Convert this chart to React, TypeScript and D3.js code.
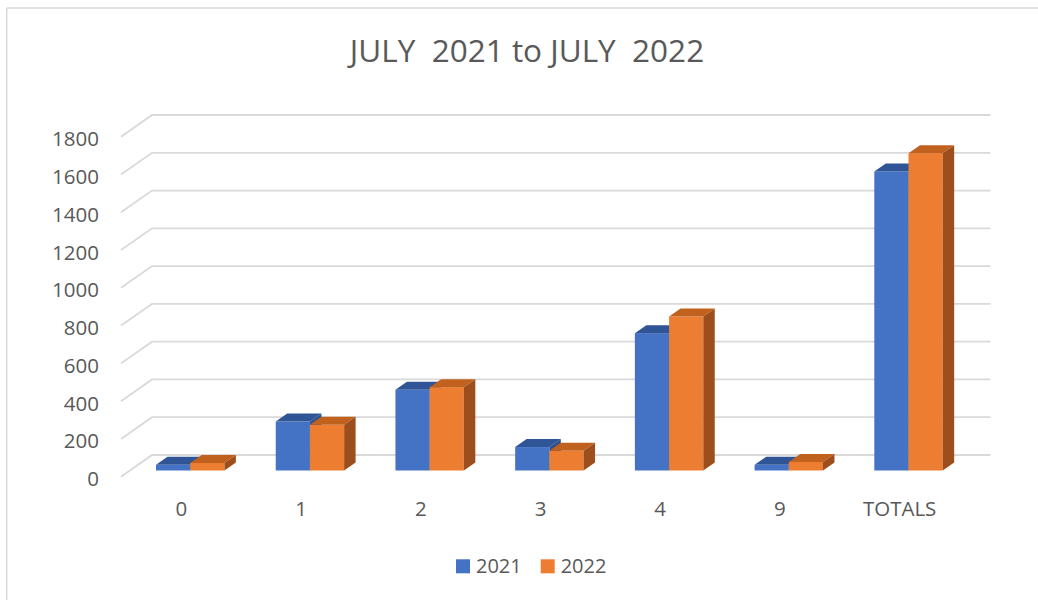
import * as d3 from 'd3';

const categories = ['0', '1', '2', '3', '4', '9', 'TOTALS'];
const series = ['2021', '2022'];
const values2021 = [30, 259, 427, 124, 727, 30, 1583];
const values2022 = [40, 242, 441, 104, 815, 45, 1680];
const yTicks = [0, 200, 400, 600, 800, 1000, 1200, 1400, 1600, 1800];

const W = 1038;
const H = 600;
// oblique projection: full depth of the plot box
const DX = 31;
const DY = -21.7;
// bar slab sits between these depth fractions
const F_FRONT = 0.286;
const F_BACK = 0.656;

const FONT = '"Open Sans", "Liberation Sans", sans-serif';
const TEXT = '#595959';
const GRID = '#d9d9d9';

const faces = [
  { front: '#4472C4', top: '#2F5597', side: '#2F528F' },
  { front: '#ED7D31', top: '#C0611E', side: '#9C4E1C' },
];

export default function App() {
  const x = d3
    .scaleBand<string>()
    .domain(categories)
    .range([121.5, 959.5])
    .paddingInner(0.4286)
    .paddingOuter(0.2143);
  const xs = d3.scaleBand<string>().domain(series).range([0, x.bandwidth()]);
  const y = d3.scaleLinear().domain([0, 1800]).range([476.7, 136.7]);

  const rows = [values2021, values2022];
  const depth = F_BACK - F_FRONT;

  const bars = categories.flatMap((c, i) =>
    series.map((s, si) => {
      const v = rows[si][i];
      const x0 = (x(c) ?? 0) + (xs(s) ?? 0) + F_FRONT * DX;
      const x1 = x0 + xs.bandwidth();
      const yt = y(v) + F_FRONT * DY;
      const yb = y(0) + F_FRONT * DY;
      const ox = depth * DX;
      const oy = depth * DY;
      return { key: `${c}-${s}`, si, x0, x1, yt, yb, ox, oy };
    }),
  );

  return (
    <div style={{ position: 'fixed', left: 0, top: 0 }}>
      <svg width={W} height={H} style={{ display: 'block', background: '#fff' }}>
        <line x1={6.7} y1={8} x2={6.7} y2={H} stroke={GRID} strokeWidth={1.5} />
        <line x1={6.7} y1={8} x2={W} y2={8} stroke={GRID} strokeWidth={1.5} />

        <text
          x={527}
          y={61.5}
          textAnchor="middle"
          fontFamily={FONT}
          fontSize={31.5}
          fill={TEXT}
          style={{ whiteSpace: 'pre' }}
        >
          {'JULY  2021 to JULY  2022'}
        </text>

        {/* gridlines: side wall diagonal + back wall */}
        <g stroke={GRID} strokeWidth={1.8} fill="none">
          {yTicks.map((t) => (
            <polyline
              key={t}
              points={`${121},${y(t)} ${121 + DX},${y(t) + DY} ${959.5 + DX},${y(t) + DY}`}
            />
          ))}
        </g>

        <g fontFamily={FONT} fontSize={20.5} fill={TEXT} textAnchor="end">
          {yTicks.map((t) => (
            <text key={t} x={99} y={y(t) + 1.5} dominantBaseline="central">
              {t}
            </text>
          ))}
        </g>

        <g>
          {bars.map((b) => (
            <g key={b.key}>
              <rect
                x={b.x0}
                y={b.yt}
                width={b.x1 - b.x0}
                height={b.yb - b.yt}
                fill={faces[b.si].front}
              />
              <polygon
                points={`${b.x0},${b.yt} ${b.x1},${b.yt} ${b.x1 + b.ox},${b.yt + b.oy} ${b.x0 + b.ox},${b.yt + b.oy}`}
                fill={faces[b.si].top}
              />
              <polygon
                points={`${b.x1},${b.yt} ${b.x1 + b.ox},${b.yt + b.oy} ${b.x1 + b.ox},${b.yb + b.oy} ${b.x1},${b.yb}`}
                fill={faces[b.si].side}
              />
            </g>
          ))}
        </g>

        <g fontFamily={FONT} fontSize={20.5} fill={TEXT} textAnchor="middle">
          {categories.map((c) => (
            <text
              key={c}
              x={(x(c) ?? 0) + x.bandwidth() / 2}
              y={508}
              dominantBaseline="central"
            >
              {c}
            </text>
          ))}
        </g>

        <g fontFamily={FONT} fontSize={20} fill={TEXT}>
          {series.map((s, i) => {
            const lx = 456 + i * 84.7;
            return (
              <g key={s}>
                <rect x={lx} y={559.3} width={14} height={14} fill={faces[i].front} />
                <text x={lx + 20} y={573.3}>
                  {s}
                </text>
              </g>
            );
          })}
        </g>
      </svg>
    </div>
  );
}
